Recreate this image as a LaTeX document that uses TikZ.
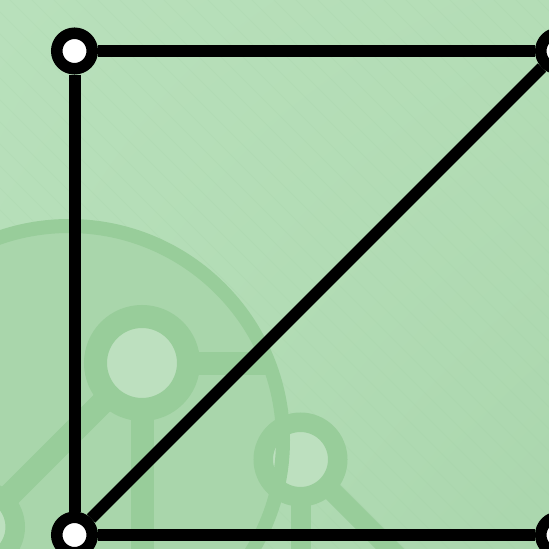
\documentclass[tikz,border=0pt]{standalone}
\usetikzlibrary{shadings}
\definecolor{bgTL}{RGB}{180,222,183}
\definecolor{bgTR}{RGB}{170,214,173}
\definecolor{bgBR}{RGB}{180,221,182}
\definecolor{bgBL}{RGB}{184,224,187}
\definecolor{decoLine}{RGB}{152,205,154}
\definecolor{decoFill}{RGB}{169,214,171}
\definecolor{decoLight}{RGB}{189,224,191}
\definecolor{stripe}{RGB}{160,208,163}
\tikzset{
  corner/.style={circle, draw=black, fill=white, line width=11.5pt, minimum size=35.5pt, inner sep=0pt},
  edge/.style={draw=black, line width=12pt},
  decoring/.style={draw=decoLine, fill=decoLight},
  decoline/.style={draw=decoLine},
  bgstripe/.style={draw=stripe, line width=0.4pt, opacity=0.2}
}
\begin{document}
\begin{tikzpicture}[x=1pt,y=-1pt]
\useasboundingbox (0,0) rectangle (549,549);
\clip (0,0) rectangle (549,549);
% background
\shade[upper left=bgBL, upper right=bgBR, lower left=bgTL, lower right=bgTR] (0,0) rectangle (549,549);
\foreach \k in {-540,-518,...,549} {
  \draw[bgstripe] (\k,0) -- ++(549,549);
}
% decorative graph
\fill[decoFill] (69,440) circle (214);
\draw[decoline, line width=23pt] (142,363) -- (268,363);
\draw[decoline, line width=23pt] (142,363) -- (142,560);
\draw[decoline, line width=23pt] (142,363) -- (-22,527);
\draw[decoline, line width=20pt] (300.5,459.5) -- (300.5,560);
\draw[decoline, line width=20pt] (300.5,459.5) -- (420,579);
\draw[decoring, line width=23pt] (142,363) circle (46.5);
\draw[decoring, line width=19.5pt] (300.5,459.5) circle (37.25);
\draw[decoring, line width=19.5pt] (-22,527) circle (37.25);
\draw[decoline, line width=14pt] (69,440) circle (214);
% main graph
\node[corner] (tl) at (74.5,51) {};
\node[corner] (tr) at (558.5,51) {};
\node[corner] (bl) at (74.5,535) {};
\node[corner] (br) at (558.5,535) {};
\draw[edge] (tl) -- (tr);
\draw[edge] (tl) -- (bl);
\draw[edge] (bl) -- (br);
\draw[edge] (bl) -- (tr);
\end{tikzpicture}
\end{document}
